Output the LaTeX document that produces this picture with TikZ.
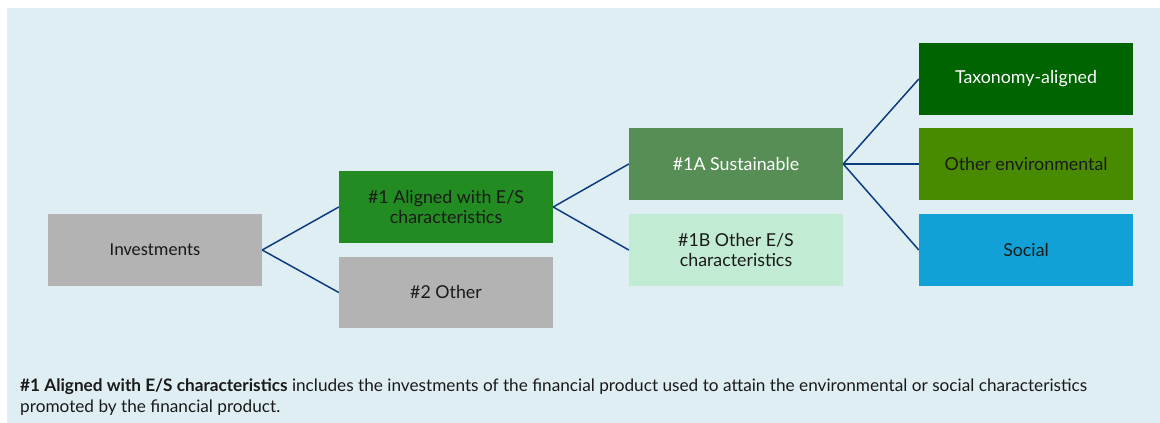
\documentclass[tikz,border=0pt]{standalone}
\usepackage{fontspec}
\setmainfont{Lato}
\newfontfamily\calfont{Carlito}
\definecolor{bgc}{HTML}{DFEEF3}
\definecolor{grayc}{HTML}{B3B3B3}
\definecolor{alignc}{HTML}{228B22}
\definecolor{susc}{HTML}{568E56}
\definecolor{otheresc}{HTML}{C1EBD3}
\definecolor{taxc}{HTML}{006400}
\definecolor{envc}{HTML}{488A00}
\definecolor{socc}{HTML}{12A1D6}
\definecolor{linec}{HTML}{0E3C80}
\definecolor{textc}{HTML}{1A1A1A}
\tikzset{
  box/.style={rectangle, minimum width=214pt, minimum height=71.5pt, inner sep=0pt, align=center,
    font=\fontsize{17.8}{19.5}\selectfont, text=textc},
  conn/.style={draw=linec, line width=1.5pt},
}
\begin{document}
\begin{tikzpicture}[x=1pt,y=-1pt]
\useasboundingbox (0,0) rectangle (1160,423);
\fill[white] (0,0) rectangle (1160,423);
\fill[bgc] (7,8) rectangle (1160,423);
\node[box, fill=grayc, font=\calfont\fontsize{18.3}{19}\selectfont] (inv) at (155,250) {Investments};
\node[box, fill=alignc] (al) at (446,207) {\#1 Aligned with E/S\\characteristics};
\node[box, fill=grayc] (oth) at (446,292.5) {\#2 Other};
\node[box, fill=susc, text=white] (sus) at (736,164) {\#1A Sustainable};
\node[box, fill=otheresc] (oes) at (736,250) {\#1B Other E/S\\characteristics};
\node[box, fill=taxc, text=white] (tax) at (1026,79) {Taxonomy-aligned};
\node[box, fill=envc] (env) at (1026,164) {Other environmental};
\node[box, fill=socc] (soc) at (1026,250) {Social};
\draw[conn] (inv.east) -- (al.west);
\draw[conn] (inv.east) -- (oth.west);
\draw[conn] (al.east) -- (sus.west);
\draw[conn] (al.east) -- (oes.west);
\draw[conn] (sus.east) -- (tax.west);
\draw[conn] (sus.east) -- (env.west);
\draw[conn] (sus.east) -- (soc.west);
\node[anchor=base west, inner sep=0pt, text=textc, font=\fontsize{17.2}{21}\selectfont] (note1) at (20,391.5)
  {\textbf{\#1 Aligned with E/S characteristics} includes the investments of the financial product used to attain the environmental or social characteristics};
\node[anchor=base west, inner sep=0pt, text=textc, font=\fontsize{17.2}{21}\selectfont] (note2) at (20,412.5)
  {promoted by the financial product.};
\end{tikzpicture}
\end{document}
